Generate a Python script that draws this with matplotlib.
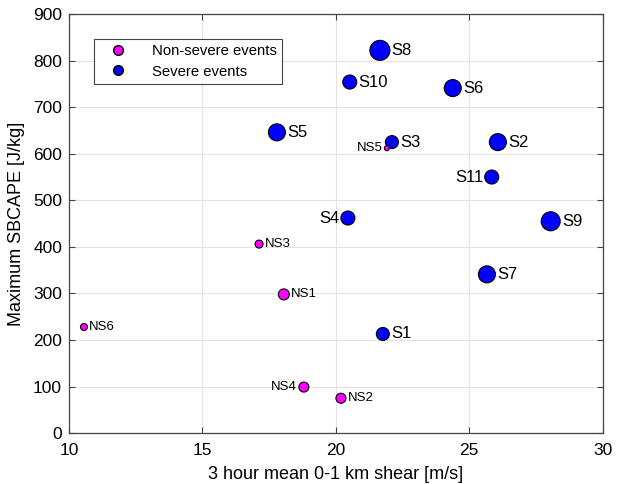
import matplotlib
matplotlib.use("Agg")
import matplotlib.pyplot as plt
from matplotlib.lines import Line2D

plt.rcParams['font.family'] = ['Liberation Sans', 'DejaVu Sans']

# severe events
s_names = ["S1", "S2", "S3", "S4", "S5", "S6", "S7", "S8", "S9", "S10", "S11"]
s_shear = [21.76, 26.07, 22.10, 20.45, 17.79, 24.38, 25.66, 21.65, 28.05, 20.52, 25.84]
s_cape = [213, 625, 625, 462, 646, 741, 341, 822, 455, 754, 550]
s_diam = [13, 17, 13, 14, 17, 17, 17, 20, 19, 14, 14]

# non-severe events
ns_names = ["NS1", "NS2", "NS3", "NS4", "NS5", "NS6"]
ns_shear = [18.05, 20.19, 17.12, 18.80, 21.91, 10.56]
ns_cape = [298, 75, 406, 99, 612, 228]
ns_diam = [11, 10, 8, 10, 5, 7]

left_labels = {"S4", "S11", "NS4", "NS5"}

fig = plt.figure(figsize=(6.22, 4.84), dpi=100)
ax = fig.add_axes([0.111, 0.105, 0.858, 0.866])

px2pt = 72.0 / 100.0


def draw(xs, ys, diams, names, color, fsize):
    sizes = [(d * px2pt) ** 2 for d in diams]
    ax.scatter(xs, ys, s=sizes, c=color, edgecolors='black', linewidths=0.8, zorder=3)
    for x, y, d, n in zip(xs, ys, diams, names):
        off = d * px2pt / 2 + 1.2
        if n in left_labels:
            ax.annotate(n, (x, y), xytext=(-off, 0), textcoords='offset points',
                        ha='right', va='center', fontsize=fsize, zorder=4)
        else:
            ax.annotate(n, (x, y), xytext=(off, 0), textcoords='offset points',
                        ha='left', va='center', fontsize=fsize, zorder=4)


draw(s_shear, s_cape, s_diam, s_names, '#0000ff', 12)
draw(ns_shear, ns_cape, ns_diam, ns_names, '#ff00ff', 9.5)

ax.set_xlim(10, 30)
ax.set_ylim(0, 900)
ax.set_xticks(range(10, 31, 5))
ax.set_yticks(range(0, 901, 100))
ax.grid(True, color='#e3e3e3', linewidth=0.8, zorder=0)
ax.set_axisbelow(True)
ax.tick_params(direction='in', top=True, right=True, labelsize=12.5, length=4,
               color='#444444')
ax.tick_params(axis='x', pad=7)
ax.tick_params(axis='y', pad=5)
for sp in ax.spines.values():
    sp.set_color('#444444')
    sp.set_linewidth(0.9)

ax.set_xlabel("3 hour mean 0-1 km shear [m/s]", fontsize=13, labelpad=6)
ax.set_ylabel("Maximum SBCAPE [J/kg]", fontsize=13, labelpad=6)

handles = [
    Line2D([], [], marker='o', linestyle='none', markerfacecolor='#ff00ff',
           markeredgecolor='black', markersize=7, label='Non-severe events'),
    Line2D([], [], marker='o', linestyle='none', markerfacecolor='#0000ff',
           markeredgecolor='black', markersize=7, label='Severe events'),
]
leg = ax.legend(handles=handles, loc='upper left', bbox_to_anchor=(0.032, 0.959),
                fontsize=10.7, fancybox=False, framealpha=1, edgecolor='#444444',
                handletextpad=0.95, borderpad=0.35, labelspacing=0.45, handlelength=2.6)
leg.get_frame().set_linewidth(0.8)

fig.savefig("out.png", dpi=100)
